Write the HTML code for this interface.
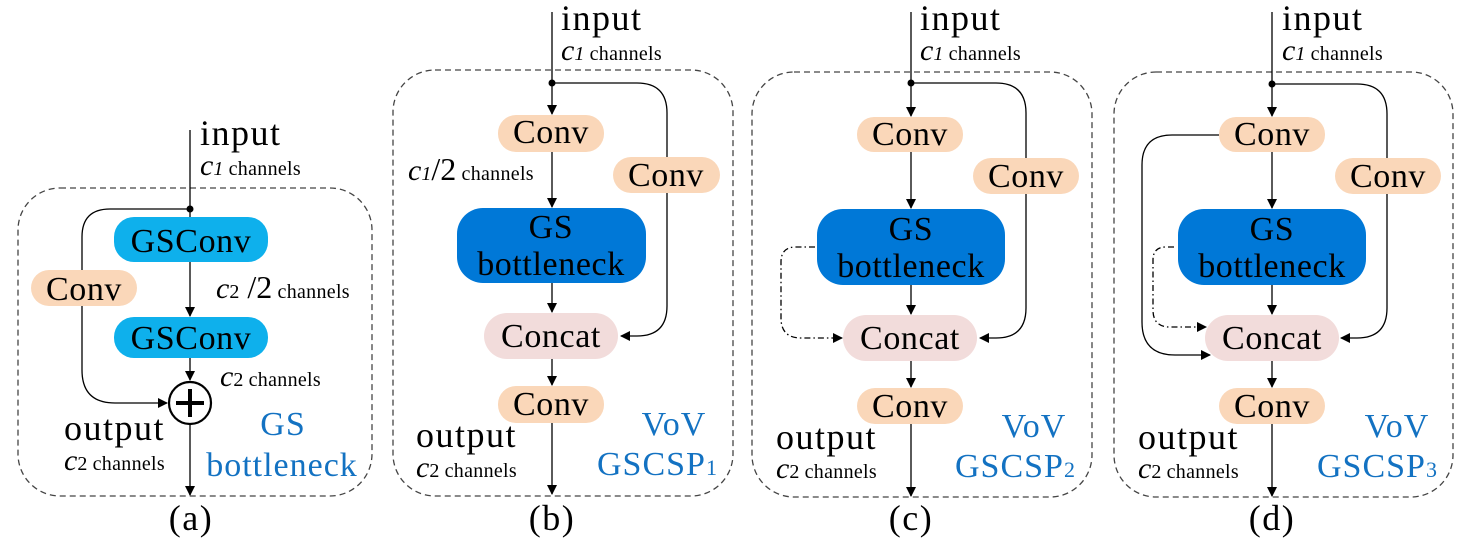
<!DOCTYPE html>
<html><head><meta charset="utf-8"><style>
html,body{margin:0;padding:0;background:#fff;}
svg{display:block;}
text{font-family:"Liberation Serif",serif;}
.b{font-size:34px;fill:#000;letter-spacing:0.6px;}
.lbl{font-size:36px;letter-spacing:1.5px;}
.sm{font-size:20px;letter-spacing:0.3px;}
.ci{font-style:italic;font-size:30px;}
.cs{font-size:20px;}
.blue{fill:#1372C2;font-size:34px;letter-spacing:1px;}
</style></head><body>
<svg width="1462" height="560" viewBox="0 0 1462 560" xmlns="http://www.w3.org/2000/svg">
<defs>
<marker id="ar" markerWidth="10" markerHeight="10" refX="9" refY="5" orient="auto" markerUnits="userSpaceOnUse">
<path d="M0,0 L10,5 L0,10 z" fill="#000"/></marker>
</defs>
<g fill="none" stroke-width="1.3" stroke-dasharray="6,4" stroke="#444">
<rect x="18" y="188" width="354" height="308" rx="42"/>
<rect x="393" y="70" width="340" height="426" rx="42"/>
<rect x="752" y="72" width="340" height="425" rx="42"/>
<rect x="1114" y="72" width="339" height="425" rx="42"/>
</g>
<!-- Panel (a) -->
<g fill="none" stroke="#000" stroke-width="1.3">
<line x1="190" y1="130" x2="190" y2="217"/>
<line x1="190" y1="262" x2="190" y2="316" marker-end="url(#ar)"/>
<line x1="190" y1="358" x2="190" y2="380" marker-end="url(#ar)"/>
<line x1="190" y1="425" x2="190" y2="495" marker-end="url(#ar)"/>
<path d="M190,209 H110 Q82,209 82,237 V370 Q82,403 115,403 H167" marker-end="url(#ar)"/>
</g>
<circle cx="190" cy="209" r="3.5" fill="#000"/>
<rect x="114" y="217" width="154" height="45" rx="20" fill="#0EB0EC"/>
<rect x="114" y="317" width="154" height="41" rx="20" fill="#0EB0EC"/>
<rect x="31" y="270" width="106" height="36" rx="18" fill="#FAD7B9"/>
<circle cx="190" cy="403" r="21" fill="#fff" stroke="#000" stroke-width="2.2"/>
<line x1="176" y1="403" x2="204" y2="403" stroke="#000" stroke-width="4"/>
<line x1="190" y1="389" x2="190" y2="417" stroke="#000" stroke-width="4"/>
<text class="b" x="191" y="252" text-anchor="middle">GSConv</text>
<text class="b" x="191" y="349" text-anchor="middle">GSConv</text>
<text class="b" x="84" y="300" text-anchor="middle">Conv</text>
<text class="lbl" x="200" y="145">input</text>
<text x="200" y="175"><tspan class="ci">c</tspan><tspan font-style="italic" class="cs">1</tspan><tspan class="sm"> channels</tspan></text>
<text x="216" y="298"><tspan class="ci">c</tspan><tspan class="cs">2</tspan><tspan font-size="32"> /2</tspan><tspan class="sm">  channels</tspan></text>
<text x="220" y="386"><tspan class="ci">c</tspan><tspan class="cs">2</tspan><tspan class="sm"> channels</tspan></text>
<text class="lbl" x="64" y="440">output</text>
<text x="64" y="470"><tspan class="ci">c</tspan><tspan class="cs">2</tspan><tspan class="sm"> channels</tspan></text>
<text class="blue" x="283" y="435" text-anchor="middle">GS</text>
<text class="blue" x="282" y="476" text-anchor="middle">bottleneck</text>
<text class="lbl" x="191" y="530" text-anchor="middle">(a)</text>

<!-- Panel (b) -->
<g fill="none" stroke="#000" stroke-width="1.3">
<line x1="552" y1="12" x2="552" y2="114" marker-end="url(#ar)"/>
<line x1="552" y1="152" x2="552" y2="207" marker-end="url(#ar)"/>
<line x1="552" y1="283" x2="552" y2="312" marker-end="url(#ar)"/>
<line x1="552" y1="359" x2="552" y2="385" marker-end="url(#ar)"/>
<line x1="552" y1="423" x2="552" y2="494" marker-end="url(#ar)"/>
<path d="M552,83 H637 Q667,83 667,113 V306 Q667,336 637,336 H621" marker-end="url(#ar)"/>
</g>
<circle cx="552" cy="83" r="3.5" fill="#000"/>
<rect x="498" y="115" width="106" height="37" rx="18" fill="#FAD7B9"/>
<rect x="613" y="157" width="107" height="36" rx="18" fill="#FAD7B9"/>
<rect x="457" y="208" width="189" height="75" rx="26" fill="#0078D7"/>
<rect x="484" y="313" width="134" height="46" rx="23" fill="#F2DCDB"/>
<rect x="498" y="386" width="106" height="37" rx="18" fill="#FAD7B9"/>
<text class="b" x="551" y="143" text-anchor="middle">Conv</text>
<text class="b" x="666" y="186" text-anchor="middle">Conv</text>
<text class="b" x="551" y="238" text-anchor="middle">GS</text>
<text class="b" x="551" y="275" text-anchor="middle">bottleneck</text>
<text class="b" x="551" y="347" text-anchor="middle">Concat</text>
<text class="b" x="551" y="415" text-anchor="middle">Conv</text>
<text class="lbl" x="561" y="30">input</text>
<text x="561" y="60"><tspan class="ci">c</tspan><tspan font-style="italic" class="cs">1</tspan><tspan class="sm"> channels</tspan></text>
<text x="408" y="180"><tspan class="ci">c</tspan><tspan font-style="italic" class="cs">1</tspan><tspan font-size="32">/2</tspan><tspan class="sm">  channels</tspan></text>
<text class="lbl" x="416" y="447">output</text>
<text x="416" y="477"><tspan class="ci">c</tspan><tspan class="cs">2</tspan><tspan class="sm"> channels</tspan></text>
<text class="blue" x="674" y="435" text-anchor="middle">VoV</text>
<text class="blue" x="597" y="475">GSCSP<tspan font-size="22">1</tspan></text>
<text class="lbl" x="552" y="530" text-anchor="middle">(b)</text>

<!-- Panel (c) -->
<g fill="none" stroke="#000" stroke-width="1.3">
<line x1="911" y1="12" x2="911" y2="116" marker-end="url(#ar)"/>
<line x1="911" y1="152" x2="911" y2="208" marker-end="url(#ar)"/>
<line x1="911" y1="285" x2="911" y2="314" marker-end="url(#ar)"/>
<line x1="911" y1="361" x2="911" y2="387" marker-end="url(#ar)"/>
<line x1="911" y1="424" x2="911" y2="496" marker-end="url(#ar)"/>
<path d="M911,83 H996 Q1026,83 1026,113 V308 Q1026,338 996,338 H980" marker-end="url(#ar)"/>
<path d="M815,247 H796 Q781,247 781,262 V318 Q781,338 801,338 H842" stroke-dasharray="6,3,1.5,3" marker-end="url(#ar)"/>
</g>
<circle cx="911" cy="83" r="3.5" fill="#000"/>
<rect x="857" y="117" width="106" height="35" rx="17" fill="#FAD7B9"/>
<rect x="973" y="158" width="106" height="36" rx="18" fill="#FAD7B9"/>
<rect x="817" y="209" width="188" height="76" rx="26" fill="#0078D7"/>
<rect x="843" y="315" width="134" height="46" rx="23" fill="#F2DCDB"/>
<rect x="857" y="388" width="106" height="36" rx="18" fill="#FAD7B9"/>
<text class="b" x="910" y="145" text-anchor="middle">Conv</text>
<text class="b" x="1026" y="187" text-anchor="middle">Conv</text>
<text class="b" x="911" y="240" text-anchor="middle">GS</text>
<text class="b" x="911" y="277" text-anchor="middle">bottleneck</text>
<text class="b" x="910" y="349" text-anchor="middle">Concat</text>
<text class="b" x="910" y="417" text-anchor="middle">Conv</text>
<text class="lbl" x="920" y="30">input</text>
<text x="920" y="60"><tspan class="ci">c</tspan><tspan font-style="italic" class="cs">1</tspan><tspan class="sm"> channels</tspan></text>
<text class="lbl" x="776" y="449">output</text>
<text x="776" y="478"><tspan class="ci">c</tspan><tspan class="cs">2</tspan><tspan class="sm"> channels</tspan></text>
<text class="blue" x="1034" y="437" text-anchor="middle">VoV</text>
<text class="blue" x="955" y="477">GSCSP<tspan font-size="22">2</tspan></text>
<text class="lbl" x="911" y="530" text-anchor="middle">(c)</text>

<!-- Panel (d) -->
<g fill="none" stroke="#000" stroke-width="1.3">
<line x1="1272" y1="12" x2="1272" y2="116" marker-end="url(#ar)"/>
<line x1="1272" y1="152" x2="1272" y2="208" marker-end="url(#ar)"/>
<line x1="1272" y1="285" x2="1272" y2="314" marker-end="url(#ar)"/>
<line x1="1272" y1="361" x2="1272" y2="387" marker-end="url(#ar)"/>
<line x1="1272" y1="424" x2="1272" y2="496" marker-end="url(#ar)"/>
<path d="M1272,84 H1357 Q1387,84 1387,114 V308 Q1387,338 1357,338 H1341" marker-end="url(#ar)"/>
<path d="M1219,135 H1172 Q1142,135 1142,165 V322 Q1142,355 1175,355 H1210" marker-end="url(#ar)"/>
<path d="M1174,247 H1166 Q1153,247 1153,260 V310 Q1153,327 1170,327 H1206" stroke-dasharray="6,3,1.5,3" marker-end="url(#ar)"/>
</g>
<circle cx="1272" cy="84" r="3.5" fill="#000"/>
<rect x="1219" y="117" width="106" height="35" rx="17" fill="#FAD7B9"/>
<rect x="1335" y="158" width="106" height="36" rx="18" fill="#FAD7B9"/>
<rect x="1178" y="209" width="188" height="76" rx="26" fill="#0078D7"/>
<rect x="1205" y="315" width="134" height="46" rx="23" fill="#F2DCDB"/>
<rect x="1219" y="388" width="106" height="36" rx="18" fill="#FAD7B9"/>
<text class="b" x="1272" y="145" text-anchor="middle">Conv</text>
<text class="b" x="1388" y="187" text-anchor="middle">Conv</text>
<text class="b" x="1272" y="240" text-anchor="middle">GS</text>
<text class="b" x="1272" y="277" text-anchor="middle">bottleneck</text>
<text class="b" x="1272" y="349" text-anchor="middle">Concat</text>
<text class="b" x="1272" y="417" text-anchor="middle">Conv</text>
<text class="lbl" x="1282" y="30">input</text>
<text x="1282" y="60"><tspan class="ci">c</tspan><tspan font-style="italic" class="cs">1</tspan><tspan class="sm"> channels</tspan></text>
<text class="lbl" x="1138" y="449">output</text>
<text x="1138" y="478"><tspan class="ci">c</tspan><tspan class="cs">2</tspan><tspan class="sm"> channels</tspan></text>
<text class="blue" x="1397" y="437" text-anchor="middle">VoV</text>
<text class="blue" x="1317" y="477">GSCSP<tspan font-size="22">3</tspan></text>
<text class="lbl" x="1272" y="530" text-anchor="middle">(d)</text>
</svg>
</body></html>
